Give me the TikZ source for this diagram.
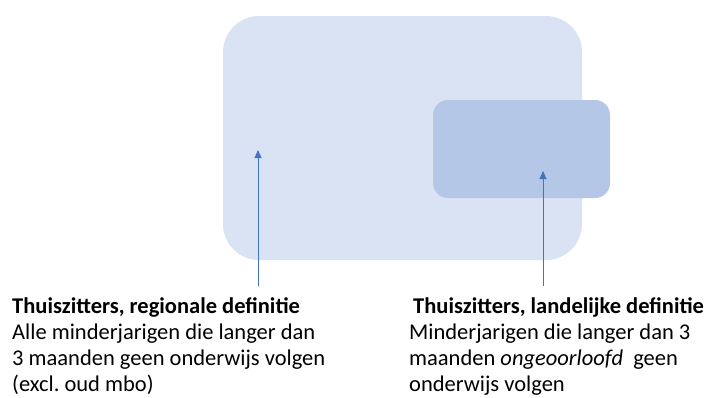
\documentclass[tikz,border=0pt]{standalone}
\usepackage{fontspec}
\setmainfont{Carlito}
\usetikzlibrary{arrows.meta}
\definecolor{bigfill}{HTML}{DAE3F3}
\definecolor{smallfill}{HTML}{B4C7E7}
\definecolor{arrowblue}{HTML}{4472C4}
\frenchspacing
\tikzset{
  setbox/.style={rounded corners=#1, draw=none},
  pointer/.style={draw=arrowblue!80, line width=0.9pt, -{Triangle[length=8pt,width=7pt]}, arrowblue},
  txt/.style={anchor=base west, inner sep=0pt, font=\fontsize{22.5}{26}\selectfont, text=black},
  txtb/.style={txt, font=\fontsize{22.5}{26}\selectfont\bfseries},
}
\begin{document}
\begin{tikzpicture}[x=1pt,y=-1pt]
\useasboundingbox (0,0) rectangle (708,397);
\fill[bigfill, setbox=36pt] (223,16) rectangle (582,260);
\fill[smallfill, setbox=15pt] (433,100) rectangle (610,198);
\coordinate (lfoot) at (258,286);
\coordinate (ltip) at (258,150);
\coordinate (rfoot) at (543,286);
\coordinate (rtip) at (543,171);
\draw[pointer] (lfoot) -- (ltip);
\draw[pointer] (rfoot) -- (rtip);
\node[txtb] (l1) at (12,313) {Thuiszitters, regionale definitie};
\node[txt] (l2) at (12,339) {Alle minderjarigen die langer dan};
\node[txt] (l3) at (12,365) {3 maanden geen onderwijs volgen};
\node[txt] (l4) at (12,391) {(excl. oud mbo)};
\node[txtb] (r1) at (413,313) {Thuiszitters, landelijke definitie};
\node[txt] (r2) at (409,339) {Minderjarigen die langer dan 3};
\node[txt] (r3) at (409,365) {maanden \textit{ongeoorloofd}\ \ geen};
\node[txt] (r4) at (409,391) {onderwijs volgen};
\end{tikzpicture}
\end{document}
